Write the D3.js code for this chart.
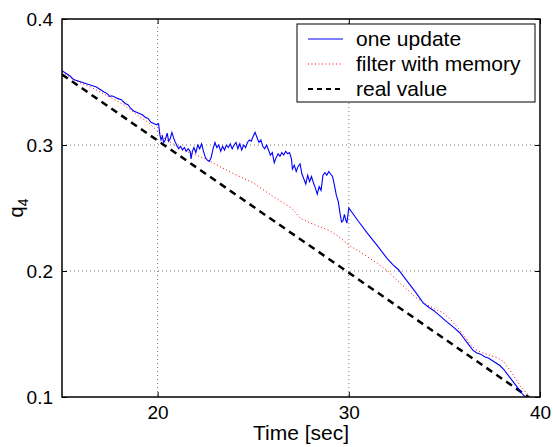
<!DOCTYPE html>
<html>
<head>
<meta charset="utf-8">
<script src="https://cdn.jsdelivr.net/npm/d3@7"></script>
<style>
  body { margin: 0; background: #fff; }
  text { font-family: "Liberation Sans", Arial, sans-serif; fill: #000; }
</style>
</head>
<body>
<div id="chart"></div>
<script>
// one update (blue solid)
var oneTime = [15.0,15.2,15.4,15.6,15.8,16.0,16.2,16.4,16.6,16.8,17.0,17.2,17.35,17.5,17.6,17.75,17.9,18.1,18.3,18.45,18.6,18.75,18.9,19.05,19.2,19.35,19.5,19.65,19.8,19.95,20.05,20.12,20.18,20.25,20.32,20.4,20.5,20.58,20.66,20.75,20.83,20.9,21.0,21.1,21.2,21.3,21.4,21.5,21.6,21.7,21.75,21.82,21.9,22.0,22.1,22.2,22.3,22.4,22.5,22.6,22.7,22.8,22.9,23.0,23.1,23.2,23.3,23.4,23.5,23.6,23.7,23.8,23.9,24.0,24.1,24.2,24.3,24.4,24.5,24.6,24.7,24.8,24.9,25.0,25.1,25.2,25.3,25.4,25.5,25.6,25.7,25.8,25.9,26.0,26.1,26.2,26.3,26.4,26.5,26.6,26.7,26.8,26.9,27.0,27.05,27.15,27.25,27.35,27.45,27.55,27.65,27.75,27.85,27.95,28.05,28.15,28.25,28.35,28.45,28.55,28.65,28.75,28.85,28.95,29.05,29.15,29.25,29.35,29.45,29.55,29.62,29.7,29.77,29.83,29.9,30.0,30.5,31.0,31.5,32.0,32.3,32.6,33.0,33.5,33.9,34.2,34.45,34.8,35.1,35.5,35.8,36.0,36.2,36.35,36.5,36.7,36.9,37.1,37.3,37.5,37.7,37.9,38.1,38.3,38.5,38.7,38.9,39.1,39.3];
var oneValue = [0.359,0.357,0.355,0.352,0.351,0.350,0.349,0.348,0.347,0.346,0.344,0.342,0.341,0.3385,0.339,0.338,0.337,0.336,0.333,0.332,0.329,0.327,0.326,0.325,0.324,0.322,0.321,0.318,0.317,0.316,0.317,0.308,0.304,0.307,0.302,0.304,0.3095,0.303,0.305,0.310,0.306,0.303,0.300,0.297,0.299,0.296,0.298,0.295,0.297,0.295,0.289,0.295,0.298,0.294,0.300,0.297,0.301,0.295,0.290,0.288,0.287,0.290,0.297,0.302,0.298,0.300,0.295,0.299,0.296,0.300,0.298,0.301,0.297,0.300,0.302,0.297,0.301,0.296,0.300,0.298,0.302,0.304,0.303,0.307,0.310,0.306,0.302,0.304,0.299,0.297,0.300,0.296,0.292,0.294,0.286,0.290,0.293,0.291,0.294,0.292,0.295,0.293,0.294,0.289,0.281,0.284,0.279,0.283,0.285,0.277,0.273,0.269,0.276,0.271,0.275,0.270,0.266,0.261,0.267,0.264,0.276,0.278,0.276,0.279,0.277,0.275,0.268,0.260,0.255,0.245,0.239,0.240,0.245,0.241,0.238,0.250,0.2395,0.2295,0.220,0.210,0.205,0.201,0.193,0.183,0.1745,0.171,0.1685,0.164,0.160,0.155,0.151,0.147,0.143,0.140,0.137,0.135,0.134,0.132,0.131,0.129,0.127,0.125,0.122,0.118,0.114,0.110,0.106,0.102,0.099];

// filter with memory (red dotted)
var filterTime = [15.0,15.5,16.0,16.5,17.0,17.5,18.0,18.5,19.0,19.5,20.0,20.3,20.6,21.0,21.5,22.0,22.5,23.0,24.0,25.0,26.0,27.0,27.5,28.0,29.0,29.5,30.0,30.5,31.0,31.5,32.0,32.5,33.0,33.5,34.0,34.5,34.9,35.3,35.7,36.0,36.3,36.6,37.0,37.4,37.8,38.1,38.4,38.7,39.0,39.3,39.55];
var filterValue = [0.358,0.353,0.349,0.346,0.342,0.338,0.334,0.329,0.323,0.318,0.311,0.306,0.303,0.299,0.295,0.292,0.289,0.285,0.277,0.270,0.2595,0.250,0.2415,0.238,0.232,0.227,0.2205,0.216,0.211,0.206,0.2005,0.193,0.186,0.179,0.174,0.170,0.167,0.162,0.155,0.149,0.143,0.138,0.135,0.133,0.131,0.128,0.122,0.115,0.108,0.103,0.100];

// real value (black dashed)
var realTime = [15.0, 39.4];
var realValue = [0.356, 0.100];

var xTicks = [20, 30, 40];
var yTicks = [0.1, 0.2, 0.3, 0.4];
var seriesNames = ["one update", "filter with memory", "real value"];

var width = 553, height = 447;
var margin = {top: 19, right: 13, bottom: 50, left: 62};
var plotW = width - margin.left - margin.right,
    plotH = height - margin.top - margin.bottom;

var svg = d3.select("#chart")
    .append("svg")
    .attr("width", width)
    .attr("height", height);

var x = d3.scaleLinear().domain([15, 40]).range([0, plotW]);
var y = d3.scaleLinear().domain([0.1, 0.4]).range([plotH, 0]);

var g = svg.append("g")
    .attr("transform", "translate(" + margin.left + "," + margin.top + ")");

g.append("clipPath").attr("id", "clip")
  .append("rect").attr("width", plotW).attr("height", plotH);

// grid
g.append("g")
    .selectAll("line")
    .data(xTicks.filter(d => d < 40))
    .enter().append("line")
    .attr("x1", d => x(d)).attr("x2", d => x(d))
    .attr("y1", 0).attr("y2", plotH)
    .attr("stroke", "#777").attr("stroke-dasharray", "1,3");
g.append("g")
    .selectAll("line")
    .data(yTicks.filter(d => d > 0.1 && d < 0.4))
    .enter().append("line")
    .attr("y1", d => y(d)).attr("y2", d => y(d))
    .attr("x1", 0).attr("x2", plotW)
    .attr("stroke", "#777").attr("stroke-dasharray", "1,3");

// axes, ticks inside
var xAxis = g.append("g")
    .attr("transform", "translate(0," + plotH + ")")
    .call(d3.axisBottom(x).tickValues(xTicks).tickSize(-5).tickPadding(9).tickFormat(d3.format("d")));
var xAxisTop = g.append("g")
    .call(d3.axisTop(x).tickValues(xTicks).tickSize(-5).tickFormat(""));
var yAxis = g.append("g")
    .call(d3.axisLeft(y).tickValues(yTicks).tickSize(-5).tickPadding(9).tickFormat(d3.format(".1f")));
var yAxisRight = g.append("g")
    .attr("transform", "translate(" + plotW + ",0)")
    .call(d3.axisRight(y).tickValues(yTicks).tickSize(-5).tickFormat(""));

[xAxis, xAxisTop, yAxis, yAxisRight].forEach(function(a) {
    a.select(".domain").remove();
    a.selectAll("line").attr("stroke", "#000");
    a.selectAll("text").style("font-size", "19px").attr("font-family", null);
});

// lines
var line = d3.line()
    .x(d => x(d[0]))
    .y(d => y(d[1]));

var lines = g.append("g").attr("clip-path", "url(#clip)");

lines.append("path")
    .datum(d3.zip(realTime, realValue))
    .attr("d", line)
    .attr("fill", "none")
    .attr("stroke", "#000")
    .attr("stroke-width", 2.5)
    .attr("stroke-dasharray", "7,5");

lines.append("path")
    .datum(d3.zip(filterTime, filterValue))
    .attr("d", line)
    .attr("fill", "none")
    .attr("stroke", "#ff0000")
    .attr("stroke-width", 1)
    .attr("stroke-dasharray", "1,2.5");

lines.append("path")
    .datum(d3.zip(oneTime, oneValue))
    .attr("d", line)
    .attr("fill", "none")
    .attr("stroke", "#0000ff")
    .attr("stroke-width", 1.1);

// frame
g.append("rect")
    .attr("width", plotW).attr("height", plotH)
    .attr("fill", "none").attr("stroke", "#000").attr("stroke-width", 1.5);

// labels
svg.append("text")
    .attr("x", margin.left + plotW / 2)
    .attr("y", 440)
    .attr("text-anchor", "middle")
    .style("font-size", "21px")
    .text("Time [sec]");

var ylab = svg.append("text")
    .attr("transform", "translate(23," + (margin.top + plotH / 2) + ") rotate(-90)")
    .attr("text-anchor", "middle")
    .style("font-size", "20px");
ylab.append("tspan").text("q");
ylab.append("tspan").attr("dy", 5).style("font-size", "14px").text("4");

// legend
var legend = svg.append("g").attr("transform", "translate(297,24)");
legend.append("rect")
    .attr("width", 238).attr("height", 78)
    .attr("fill", "#fff").attr("stroke", "#000").attr("stroke-width", 1);

var legendStyles = [
    {stroke: "#0000ff", width: 1.1, dash: null},
    {stroke: "#ff0000", width: 1, dash: "1,2.5"},
    {stroke: "#000", width: 2, dash: "5,4"}
];
var items = legend.selectAll(".item")
    .data(seriesNames)
    .enter().append("g")
    .attr("transform", (d, i) => "translate(0," + (15 + i * 25) + ")");
items.append("line")
    .attr("x1", 11).attr("x2", 46)
    .attr("stroke", (d, i) => legendStyles[i].stroke)
    .attr("stroke-width", (d, i) => legendStyles[i].width)
    .attr("stroke-dasharray", (d, i) => legendStyles[i].dash);
items.append("text")
    .attr("x", 59).attr("y", 7)
    .style("font-size", "21px")
    .text(d => d);
</script>
</body>
</html>
